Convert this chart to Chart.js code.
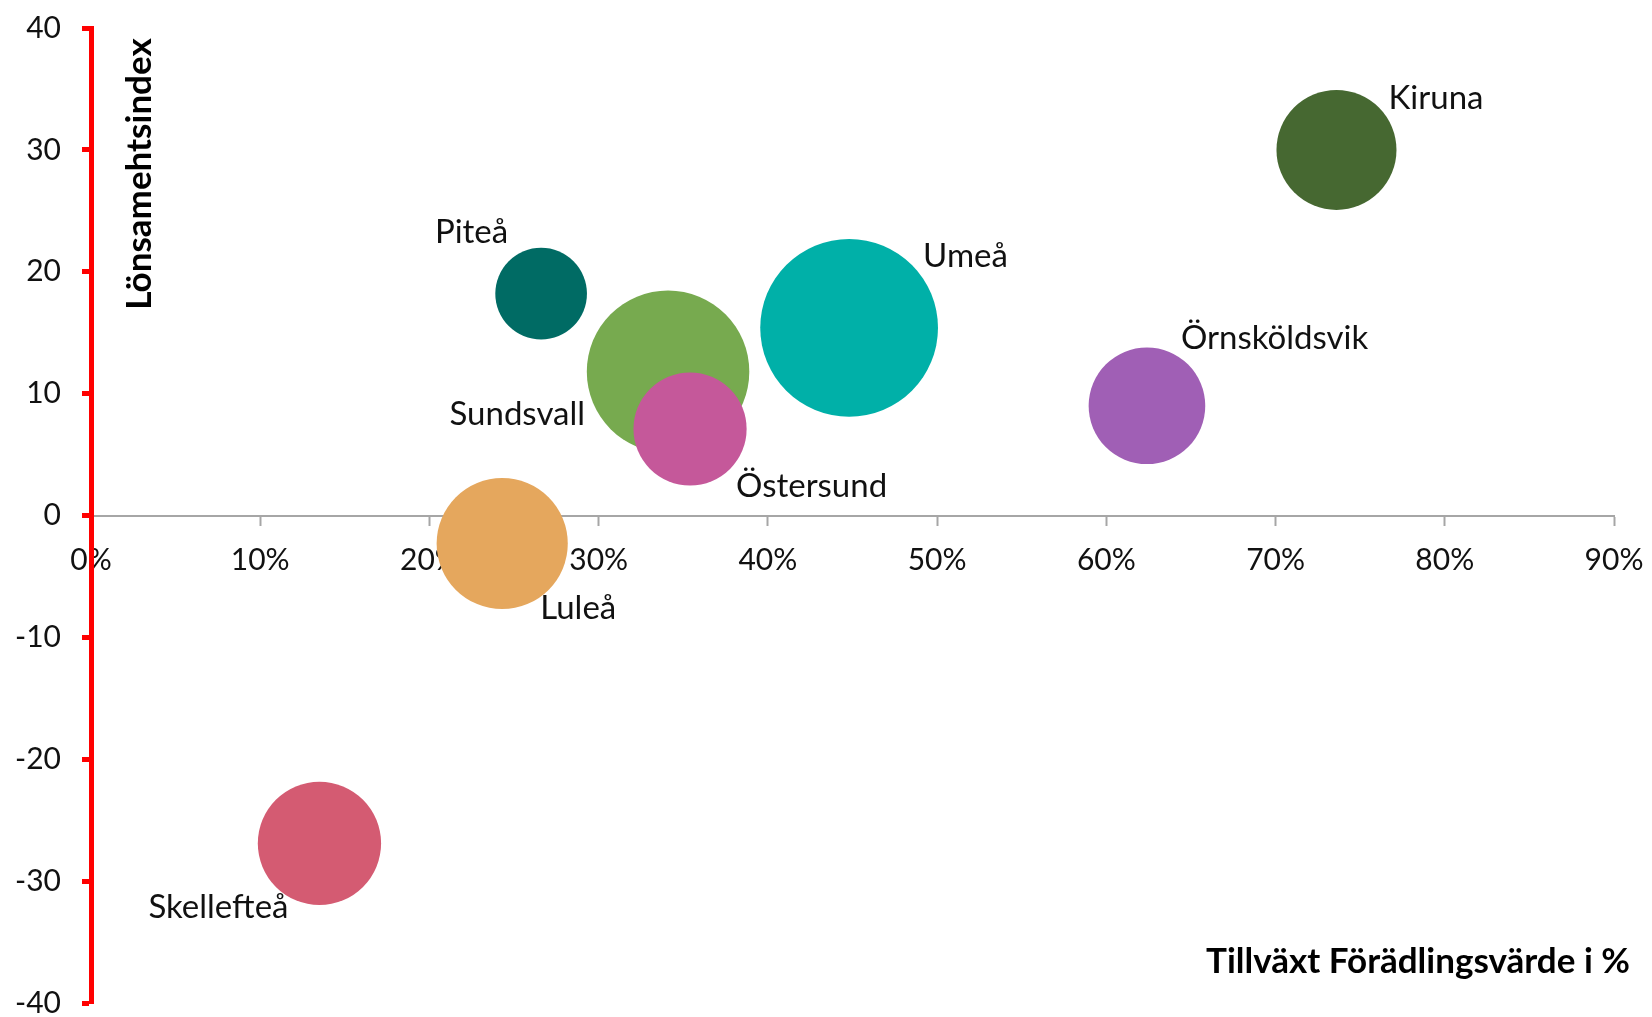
<!DOCTYPE html>
<html lang="sv">
<head>
<meta charset="utf-8">
<title>Lönsamhet och tillväxt</title>
<script src="https://cdn.jsdelivr.net/npm/chart.js@4.4.0/dist/chart.umd.min.js"></script>
<style>
    html, body { margin: 0; padding: 0; background: #fff; overflow: hidden; }
    #wrap { width: 1652px; height: 1017px; position: relative; }
</style>
</head>
<body>
<div id="wrap"><canvas id="chart-bubble"></canvas></div>
<script>
// DATA
// Sundsvall before Östersund so Östersund is drawn on top
const cities = ['Piteå', 'Sundsvall', 'Östersund', 'Umeå', 'Kiruna', 'Örnsköldsvik', 'Luleå', 'Skellefteå'];
const growth = [26.6, 34.1, 35.4, 44.8, 73.6, 62.4, 24.3, 13.5];      // Tillväxt förädlingsvärde, %
const profitIndex = [18.2, 11.8, 7.1, 15.4, 30.0, 9.0, -2.3, -26.9];  // Lönsamhetsindex
const bubbleSize = [21, 66, 32, 79, 36, 34, 43, 38];                   // relative bubble size (area)

const xTitle = 'Tillväxt Förädlingsvärde i %';
const yTitle = 'Lönsamehtsindex';

// styles
const colors = ['#006b64', '#77aa4f', '#c5589a', '#00b0a8', '#466831', '#a05fb5', '#e5a75d', '#d45b72'];

// label offsets from bubble centre: [dx, dy, align]
const labelPlace = {
    'Piteå': [-33, -61, 'right'],
    'Sundsvall': [-83, 43, 'right'],
    'Östersund': [46, 57, 'left'],
    'Umeå': [74, -71, 'left'],
    'Kiruna': [52, -52, 'left'],
    'Örnsköldsvik': [34, -67, 'left'],
    'Luleå': [38, 65, 'left'],
    'Skellefteå': [-31, 64, 'right']
};

Chart.defaults.font.family = 'Lato';

// city names next to the bubbles
const bubbleLabels = {
    id: 'bubbleLabels',
    afterDatasetsDraw(chart) {
        const ctx = chart.ctx;
        const meta = chart.getDatasetMeta(0);
        ctx.save();
        ctx.font = '33px Lato';
        ctx.fillStyle = '#111';
        ctx.textBaseline = 'middle';
        meta.data.forEach((pt, i) => {
            const p = labelPlace[cities[i]];
            ctx.textAlign = p[2];
            ctx.fillText(cities[i], pt.x + p[0], pt.y + p[1]);
        });
        ctx.restore();
    }
};

// axis titles sit inside the plot area
const axisTitles = {
    id: 'axisTitles',
    afterDraw(chart) {
        const {ctx, chartArea} = chart;
        ctx.save();
        ctx.fillStyle = '#000';
        ctx.font = 'bold 35px Lato';
        ctx.textBaseline = 'middle';
        ctx.textAlign = 'right';
        ctx.fillText(xTitle, chartArea.right + 16, chartArea.bottom - 41);
        ctx.translate(chartArea.left + 49, chartArea.top + 146);
        ctx.rotate(-Math.PI / 2);
        ctx.textAlign = 'center';
        ctx.fillText(yTitle, 0, 0);
        ctx.restore();
    }
};

// keep label overhang from pushing the plot area in
const noPadding = s => { s.paddingTop = s.paddingBottom = s.paddingLeft = s.paddingRight = 0; };

const dataBubble = {
    datasets: [{
        data: cities.map((c, i) => ({x: growth[i], y: profitIndex[i], r: 10 * Math.sqrt(bubbleSize[i])})),
        backgroundColor: colors,
        borderWidth: 0,
        clip: false
    }]
};

const tickFont = {family: 'Lato', size: 30};

const configBubble = {
    type: 'bubble',
    data: dataBubble,
    options: {
        responsive: true,
        maintainAspectRatio: false,
        animation: false,
        events: [],
        layout: { autoPadding: false, padding: {top: 28, right: 38, bottom: 14, left: 0} },
        plugins: {
            legend: { display: false },
            tooltip: { enabled: false }
        },
        scales: {
            // axis line + ticks, under the bubbles
            x: {
                type: 'linear',
                min: 0, max: 90,
                position: {y: 0},
                afterFit: noPadding,
                border: { color: '#a6a6a6', width: 2 },
                grid: { drawOnChartArea: false, tickLength: 9, tickColor: '#a6a6a6', tickWidth: 2 },
                ticks: { display: false, stepSize: 10 }
            },
            // tick labels, above the bubbles
            xl: {
                type: 'linear',
                axis: 'x',
                min: 0, max: 90,
                position: {y: 0},
                z: 1,
                afterFit: noPadding,
                border: { display: false },
                grid: { display: false },
                ticks: {
                    stepSize: 10, padding: 19, color: '#111', font: tickFont,
                    maxRotation: 0, autoSkip: false,
                    callback: v => v + '%'
                }
            },
            y: {
                min: -40, max: 40,
                position: 'left',
                afterFit: s => { noPadding(s); s.width = 91; },
                border: { color: '#ff0000', width: 5 },
                grid: { drawOnChartArea: false, tickLength: 9, tickColor: '#ff0000', tickWidth: 5 },
                ticks: { stepSize: 10, padding: 21, color: '#111', font: tickFont }
            }
        }
    },
    plugins: [bubbleLabels, axisTitles]
};

const chartBubble = new Chart(
    document.getElementById('chart-bubble'),
    configBubble
);
</script>
</body>
</html>
